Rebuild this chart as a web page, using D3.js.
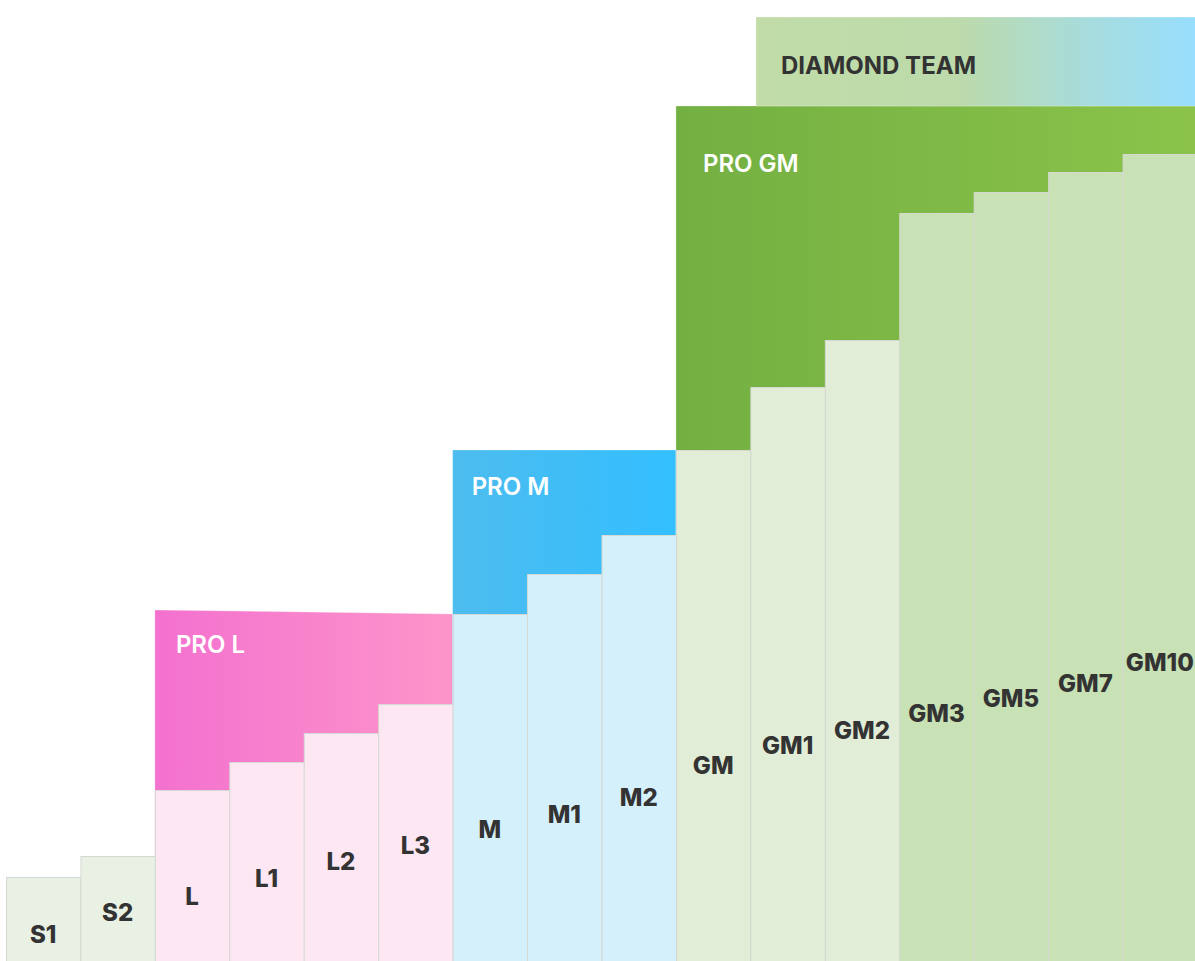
<!DOCTYPE html>
<html>
<head>
<meta charset="utf-8">
<script src="https://cdn.jsdelivr.net/npm/d3@7"></script>
<style>
  html, body { margin: 0; padding: 0; background: #fff; }
  svg { display: block; }
</style>
</head>
<body>
<svg id="svg"></svg>
<script>
const width = 1195;
const height = 961;

// bar categories, their heights and where each label sits (same units as heights)
const categories = ["S1", "S2", "L", "L1", "L2", "L3", "M", "M1", "M2", "GM", "GM1", "GM2", "GM3", "GM5", "GM7", "GM10"];
const levels = [84, 105, 171, 199, 228, 257, 347, 387, 426, 511, 574, 621, 748, 769, 789, 807];
const labelLevels = [18, 40, 56, 74, 91, 107, 123, 138, 155, 187, 207, 222, 239, 254, 269, 290];
const tiers = ["S", "S", "L", "L", "L", "L", "M", "M", "M", "GM", "GM", "GM", "GMX", "GMX", "GMX", "GMX"];

// the "pro" bands behind the bars: name, start / end index, top level at left / right
const bandNames = ["PRO L", "PRO M", "PRO GM", "DIAMOND TEAM"];
const bandStart = [2, 6, 9, 10.075];
const bandEnd = [6, 9, 16, 16];
const bandTopLeft = [351, 511, 855, 944];
const bandTopRight = [347, 511, 855, 944];
const bandBottom = [0, 0, 0, 855];

const tierFill = {S: "#e8f1e3", L: "#fde7f3", M: "#d4f0fb", GM: "#e1edd7", GMX: "#c8e1b5"};
const bandGradients = [
    [["0%", "#f371cf"], ["100%", "#fd95ca"]],
    [["0%", "#4dbcee"], ["100%", "#33bfff"]],
    [["0%", "#73b042"], ["100%", "#8bc34a"]],
    [["0%", "#c1dca7"], ["46%", "#bcdaab"], ["75%", "#a7dcdc"], ["100%", "#97defd"]]
];
const bandTextColour = ["#fff", "#fff", "#fff", "#333"];
const bandWeight = [600, 600, 600, 700];

let svg = d3.select("#svg").attr("width", width).attr("height", height);

const xScale = d3.scaleLinear().domain([0, categories.length]).range([6, 6 + 16 * 74.44]);
const yScale = d3.scaleLinear().domain([0, height]).range([height, 0]);

const defs = svg.append("defs");
bandGradients.forEach((stops, i) => {
    const g = defs.append("linearGradient")
        .attr("id", "band-grad-" + i)
        .attr("x1", "0%").attr("x2", "100%")
        .attr("y1", "0%").attr("y2", "0%");
    stops.forEach(s => g.append("stop").attr("offset", s[0]).attr("stop-color", s[1]));
});

const font = "Inter, 'Open Sans', sans-serif";

// bands
const bandData = bandNames.map((name, i) => ({
    name: name,
    start: bandStart[i],
    end: bandEnd[i],
    topL: bandTopLeft[i],
    topR: bandTopRight[i],
    bottom: bandBottom[i],
    i: i
}));

svg.selectAll(".band")
    .data(bandData)
    .enter().append("polygon")
    .attr("class", "band")
    .attr("points", d => [
        [xScale(d.start), yScale(d.topL)],
        [xScale(d.end), yScale(d.topR)],
        [xScale(d.end), yScale(d.bottom)],
        [xScale(d.start), yScale(d.bottom)]
    ].map(p => p.join(",")).join(" "))
    .attr("fill", d => "url(#band-grad-" + d.i + ")")
    .attr("stroke", "rgba(255,255,255,0.25)")
    .attr("stroke-width", 1);

// band labels
const bandLabelDx = [21, 19, 27, 25];
const bandLabelDy = [43, 45, 66, 57];
svg.selectAll(".band-label")
    .data(bandData)
    .enter().append("text")
    .attr("class", "band-label")
    .attr("x", d => xScale(d.start) + bandLabelDx[d.i])
    .attr("y", d => yScale(d.topL) + bandLabelDy[d.i])
    .attr("fill", d => bandTextColour[d.i])
    .style("font-family", font)
    .style("font-weight", d => bandWeight[d.i])
    .style("font-size", "24px")
    .text(d => d.name);

// bars
const barData = categories.map((c, i) => ({cat: c, i: i, level: levels[i], label: labelLevels[i], tier: tiers[i]}));

svg.selectAll(".bar")
    .data(barData)
    .enter().append("rect")
    .attr("class", "bar")
    .attr("x", d => xScale(d.i) + 0.5)
    .attr("y", d => yScale(d.level) + 0.5)
    .attr("width", d => xScale(d.i + 1) - xScale(d.i))
    .attr("height", d => yScale(0) - yScale(d.level) + 1)
    .attr("fill", d => tierFill[d.tier])
    .attr("stroke", "#d6d9d3")
    .attr("stroke-width", 1);

svg.selectAll(".bar-label")
    .data(barData)
    .enter().append("text")
    .attr("class", "bar-label")
    .attr("x", d => (xScale(d.i) + xScale(d.i + 1)) / 2)
    .attr("y", d => yScale(d.label))
    .attr("text-anchor", "middle")
    .attr("fill", "#333")
    .style("font-family", font)
    .style("font-weight", 800)
    .style("font-size", "24px")
    .text(d => d.cat);
</script>
</body>
</html>
